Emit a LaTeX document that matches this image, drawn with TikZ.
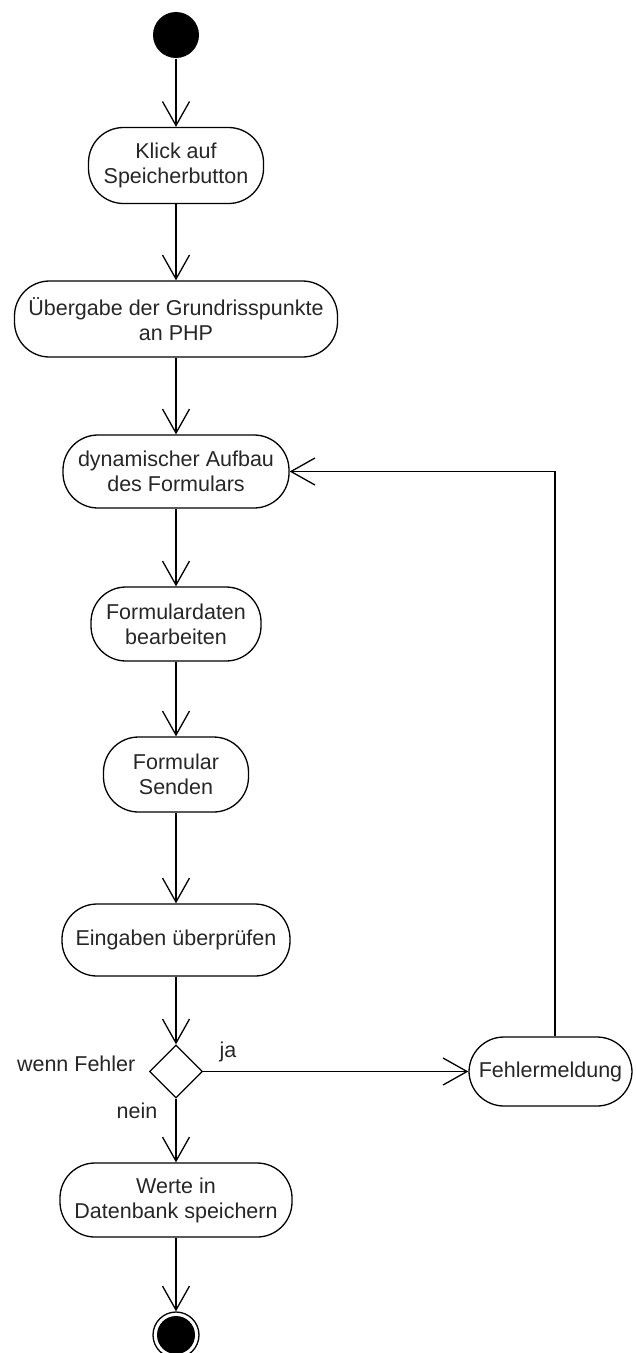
\documentclass[tikz,border=0pt]{standalone}
\usepackage{fontspec}
\setmainfont{Liberation Sans}
\usetikzlibrary{arrows.meta,shapes.geometric,positioning}
\begin{document}
\begin{tikzpicture}[x=1pt,y=-1pt,
  line width=1.3pt,
  >={Straight Barb[length=24pt,width=27pt,line width=1.3pt]},
  txt/.style={text=black!85, font=\fontsize{21.5}{25}\selectfont},
  act/.style={txt, draw, rectangle, rounded corners=35pt, inner sep=0pt, align=center},
  dec/.style={draw, diamond, minimum width=53pt, minimum height=53pt, inner sep=0pt},
  lbl/.style={txt, inner sep=0pt}
]
\useasboundingbox (0,0) rectangle (635,1353);
\node[circle, fill=black, minimum size=46pt, inner sep=0pt] (start) at (176,35) {};
\node[act, minimum width=175pt, minimum height=76pt] (n1) at (176,165.5) {Klick auf\\Speicherbutton};
\node[act, minimum width=323pt, minimum height=76pt] (n2) at (176,319) {Übergabe der Grundrisspunkte\\an PHP};
\node[act, minimum width=226pt, minimum height=73pt] (n3) at (176,471.5) {dynamischer Aufbau\\des Formulars};
\node[act, minimum width=170pt, minimum height=74pt] (n4) at (176,624) {Formulardaten\\bearbeiten};
\node[act, minimum width=145pt, minimum height=75pt] (n5) at (176,774.5) {Formular\\Senden};
\node[act, minimum width=228pt, minimum height=72pt] (n6) at (176,940) {Eingaben überprüfen};
\node[dec] (d) at (176,1071.5) {};
\node[act, minimum width=163pt, minimum height=69pt] (fehl) at (550.5,1071.5) {Fehlermeldung};
\node[act, minimum width=232pt, minimum height=74pt] (n7) at (176,1200) {Werte in\\Datenbank speichern};
\node[circle, draw, minimum size=46pt, inner sep=0pt] (end) at (176,1335) {};
\node[circle, fill=black, minimum size=38pt, inner sep=0pt] (endin) at (176,1335) {};
\node[lbl, anchor=east] (lw) at (136,1064) {wenn Fehler};
\node[lbl] (lja) at (228,1052) {ja};
\node[lbl] (lnein) at (137,1111) {nein};
\draw[->] (start) -- (n1);
\draw[->] (n1) -- (n2);
\draw[->] (n2) -- (n3);
\draw[->] (n3) -- (n4);
\draw[->] (n4) -- (n5);
\draw[->] (n5) -- (n6);
\draw[->] (n6) -- (d);
\draw[->] (d) -- (fehl);
\draw[->] ([xshift=4.5pt]fehl.north) |- (n3.east);
\draw[->] (d) -- (n7);
\draw[->] (n7) -- (end);
\end{tikzpicture}
\end{document}
